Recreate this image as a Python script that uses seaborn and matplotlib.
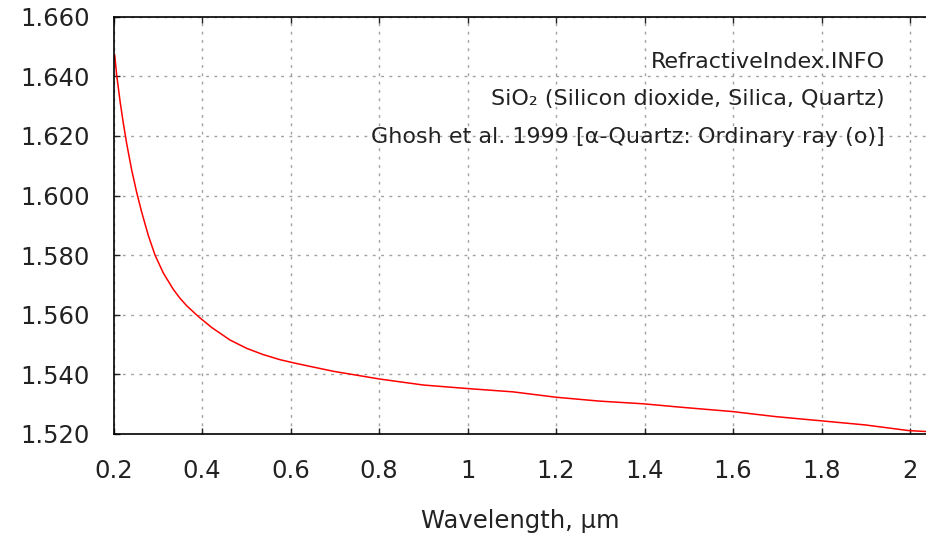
import matplotlib
matplotlib.use("Agg")
import matplotlib.pyplot as plt
import seaborn as sns
import pandas as pd

# values (wavelength in um, refractive index)
wavelength = [0.2025, 0.2070, 0.2150, 0.2221, 0.2300, 0.2411, 0.2524, 0.2637,
              0.2786, 0.2938, 0.3125, 0.3351, 0.3503, 0.3654, 0.3916, 0.4219,
              0.4633, 0.5010, 0.5385, 0.5763, 0.6140, 0.697, 0.802, 0.900,
              1.001, 1.103, 1.200, 1.298, 1.397, 1.478, 1.598, 1.696, 1.798,
              1.899, 1.997, 2.036]
n_index = [1.6473, 1.6406, 1.6314, 1.6243, 1.6172, 1.6085, 1.6010, 1.5944,
           1.5866, 1.5800, 1.5740, 1.5685, 1.5655, 1.5630, 1.5594, 1.5557,
           1.5515, 1.5487, 1.5466, 1.5449, 1.5436, 1.5410, 1.5384, 1.5364,
           1.5352, 1.5341, 1.5323, 1.5310, 1.5301, 1.5290, 1.5275, 1.5258,
           1.5244, 1.5230, 1.5211, 1.5208]

x_ticks = [0.2, 0.4, 0.6, 0.8, 1.0, 1.2, 1.4, 1.6, 1.8, 2.0]
x_tick_labels = ["0.2", "0.4", "0.6", "0.8", "1", "1.2", "1.4", "1.6", "1.8", "2"]
y_ticks = [1.520, 1.540, 1.560, 1.580, 1.600, 1.620, 1.640, 1.660]
y_tick_labels = ["%.3f" % v for v in y_ticks]

info_lines = ["RefractiveIndex.INFO",
              "SiO\u2082 (Silicon dioxide, Silica, Quartz)",
              "Ghosh et al. 1999 [\u03b1-Quartz: Ordinary ray (o)]"]

df = pd.DataFrame({"wavelength": wavelength, "n": n_index})

sns.set_style("ticks")
plt.rcParams["font.family"] = ["DejaVu Sans"]

fig = plt.figure(figsize=(9.26, 5.41), dpi=100)
ax = fig.add_axes([0.1226, 0.198, 0.8774, 0.771])

sns.lineplot(data=df, x="wavelength", y="n", color="#ff0000", linewidth=1.1, ax=ax)

ax.set_xlim(0.2, 2.036)
ax.set_ylim(1.520, 1.660)
ax.set_xticks(x_ticks)
ax.set_xticklabels(x_tick_labels)
ax.set_yticks(y_ticks)
ax.set_yticklabels(y_tick_labels)

ax.grid(True, color="#a0a0a0", linestyle=(0, (2, 4)), linewidth=1.0)
ax.tick_params(direction="in", length=4, width=1.0, top=True, right=False,
               labelsize=17.5, colors="#222222")
ax.tick_params(axis="x", pad=18)
ax.tick_params(axis="y", pad=17)

for side in ["left", "bottom", "top"]:
    ax.spines[side].set_linewidth(1.2)
    ax.spines[side].set_color("black")
ax.spines["right"].set_visible(False)

ax.set_xlabel("Wavelength, \u00b5m", fontsize=17.5, color="#222222", labelpad=19)
ax.set_ylabel("")

for txt, y in zip(info_lines, [0.878, 0.789, 0.698]):
    ax.text(0.9496, y, txt, transform=ax.transAxes, ha="right", va="baseline",
            fontsize=16, color="#222222")

fig.savefig("out.png", dpi=100)
